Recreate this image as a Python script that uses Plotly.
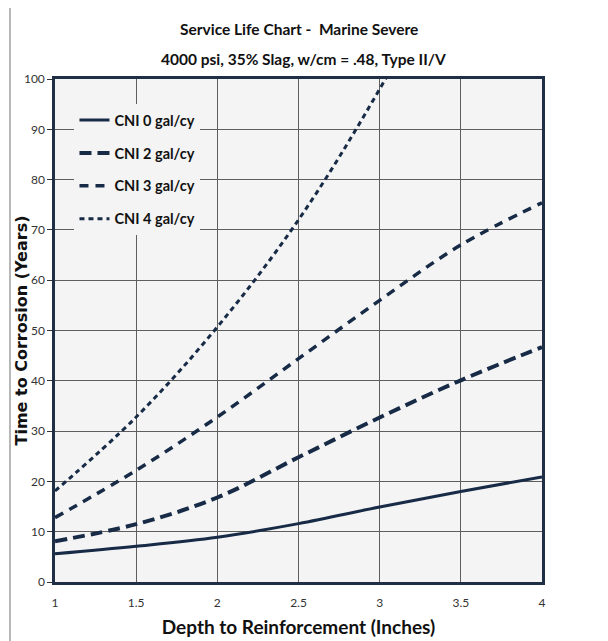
import plotly.graph_objects as go

depth = [1, 1.5, 2, 2.5, 3, 3.5, 4]
cni0 = [5.6, 7.1, 8.9, 11.6, 14.9, 18.0, 20.9]
cni2 = [8.1, 11.5, 16.8, 24.8, 32.7, 40.1, 46.7]
cni3 = [12.8, 22.2, 32.8, 44.4, 56.0, 67.0, 75.4]
cni4 = [18.1, 32.8, 50.7, 72.0, 98.0, 128.0, 160.0]
names = ["CNI 0 gal/cy", "CNI 2 gal/cy", "CNI 3 gal/cy", "CNI 4 gal/cy"]
x_ticks = [1, 1.5, 2, 2.5, 3, 3.5, 4]
x_tick_labels = ["1", "1.5", "2", "2.5", "3", "3.5", "4"]
y_ticks = [0, 10, 20, 30, 40, 50, 60, 70, 80, 90, 100]

title1 = "Service Life Chart -  Marine Severe"
title2 = "4000 psi, 35% Slag, w/cm = .48, Type II/V"
x_title = "Depth to Reinforcement (Inches)"
y_title = "Time to Corrosion (Years)"

NAVY = "#172a46"
SANS = "Lato, Roboto, sans-serif"
styles = [
    dict(dash="solid", width=3),
    dict(dash="12px,6px", width=4),
    dict(dash="9px,7px", width=3.5),
    dict(dash="5px,4px", width=3),
]

fig = go.Figure()
for i, (nm, ys) in enumerate(zip(names, [cni0, cni2, cni3, cni4])):
    fig.add_trace(go.Scatter(
        x=depth, y=ys, name=f"<b>{nm}</b>", mode="lines",
        line=dict(color=NAVY, shape="spline", smoothing=1.0, **styles[i]),
        legendgroup=f"g{i}",
    ))

fig.update_layout(
    width=600, height=633,
    margin=dict(l=47, r=66, t=71, b=59),
    paper_bgcolor="white",
    plot_bgcolor="#f4f4f4",
    font=dict(family=SANS, color="#222"),
    showlegend=True,
    legend=dict(
        x=0.04, y=0.95, xanchor="left", yanchor="top",
        bgcolor="#f4f4f4",
        font=dict(size=14.5, color="#111", family=SANS),
        tracegroupgap=11,
        itemwidth=30,
    ),
    xaxis=dict(
        range=[1, 4], tickvals=x_ticks, ticktext=x_tick_labels,
        showgrid=True, gridcolor="#5e5e5e", gridwidth=1,
        showline=True, linecolor="#1f2f46", linewidth=2.5, mirror=True,
        ticks="", zeroline=False, automargin=False,
        tickfont=dict(size=12, color="#333", family=SANS),
        ticklabelstandoff=8,
        title=dict(text=f"<b>{x_title}</b>", font=dict(size=19, color="#111", family=SANS), standoff=12),
    ),
    yaxis=dict(
        range=[0, 100], tickvals=y_ticks,
        showgrid=True, gridcolor="#5e5e5e", gridwidth=1,
        showline=True, linecolor="#1f2f46", linewidth=2.5, mirror=True,
        ticks="outside", ticklen=5, tickcolor="#333", zeroline=False, automargin=False,
        tickfont=dict(size=12, color="#333", family=SANS),
    ),
    annotations=[
        dict(text=f"<b>{title1}</b>", xref="paper", yref="paper", x=0.5, y=1.1, xanchor="center",
             yanchor="middle", showarrow=False, font=dict(size=15.5, color="#111", family=SANS)),
        dict(text=f"<b>{title2}</b>", xref="paper", yref="paper", x=0.51, y=1.04, xanchor="center",
             yanchor="middle", showarrow=False, font=dict(size=15.5, color="#111", family=SANS)),
        dict(text=f"<b>{y_title}</b>", xref="paper", yref="paper", x=-0.0678, y=0.5,
             xanchor="center", yanchor="middle", textangle=-90, showarrow=False,
             font=dict(size=16, color="#111", family="DejaVu Sans, Verdana, sans-serif")),
    ],
    shapes=[
        dict(type="line", xref="paper", yref="paper", x0=-0.0924, x1=1.129, y0=1.153, y1=1.153,
             line=dict(color="#a0a0a0", width=1.5)),
        dict(type="line", xref="paper", yref="paper", x0=-0.0924, x1=-0.0924, y0=-0.12, y1=1.153,
             line=dict(color="#a0a0a0", width=1.5)),
    ],
)

fig.write_html("out.html")
